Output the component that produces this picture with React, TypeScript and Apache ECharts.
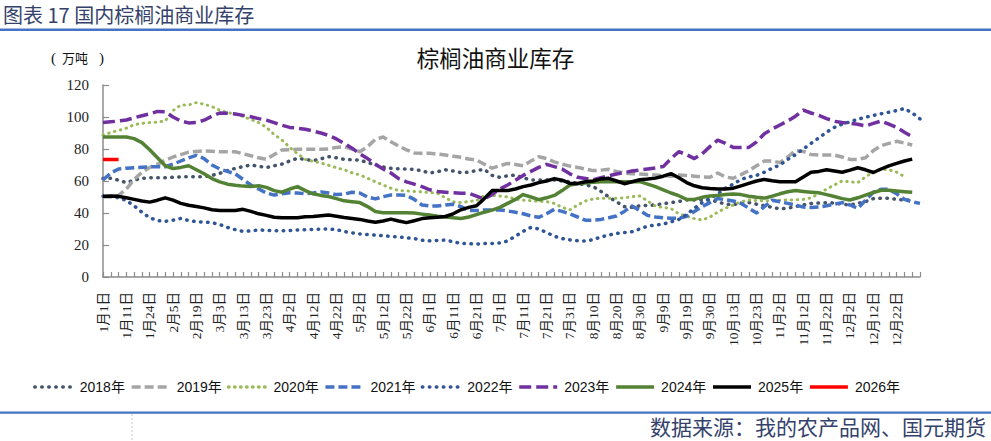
import React, { useEffect, useRef } from "react";
import * as echarts from "echarts";

const tickLabels = [
  "1月1日", "1月11日", "1月24日", "2月5日", "2月19日", "3月3日", "3月13日", "3月23日",
  "4月2日", "4月12日", "4月22日", "5月2日", "5月12日", "5月22日", "6月1日", "6月11日",
  "6月21日", "7月1日", "7月11日", "7月21日", "7月31日", "8月10日", "8月20日", "8月30日",
  "9月9日", "9月19日", "9月30日", "10月13日", "10月23日", "11月2日", "11月12日", "11月22日",
  "12月2日", "12月12日", "12月22日",
];
const categoryCount = 106;
const categories = Array.from({ length: categoryCount }, (_, i) =>
  i % 3 === 0 && i / 3 < tickLabels.length ? tickLabels[i / 3] : `#${i}`
);

const s2018 = [
  61.5, 61.7, 60.5, 59, 60.5, 61.7, 62, 62.1, 62.1, 62.3,
  62.6, 62.7, 62.7, 62.7, 63.5, 64.8, 66.5, 67.9, 69, 70,
  69.2, 68.4, 69.5, 70.6, 72.5, 74.2, 73.5, 72.7, 73.8, 75.2,
  74.5, 73.5, 73.3, 73.1, 71.5, 70, 68.8, 67.9, 67.7, 67.5,
  67.3, 66.3, 65, 65.8, 67, 66.2, 65.2, 65.5, 66.5, 67.3,
  63.5, 62.3, 63.2, 63.7, 62, 60.6, 60.6, 60.6, 60.6, 60,
  59.5, 58.5, 57.5, 56.5, 53.5, 50, 47, 44, 43.5, 44.5,
  44.8, 45, 45.8, 46.5, 47.2, 48.1, 48.1, 48.1, 48.1, 47,
  45.5, 45.3, 46, 46.5, 45.5, 44.5, 43.5, 42.6, 43, 44,
  45, 46, 46.2, 46.4, 46.3, 45.5, 45, 46, 47.1, 49,
  49.2, 49.2, 48.6, 48.1, 48,
];
const s2019 = [
  50, 50.2, 51, 55, 61, 65.5, 68.5, 70.5, 73, 75,
  76.5, 78, 78.5, 78.8, 78.6, 78.3, 78.3, 78.3, 77, 75.8,
  74.5, 73.5, 76.5, 79.4, 79.6, 79.8, 79.8, 79.8, 79.8, 80,
  81, 81.5, 80, 78.3, 81.5, 86, 87.5, 84.5, 81.8, 79.5,
  77.5, 77.3, 77.3, 76.8, 76.2, 75.5, 74.8, 73.8, 73.1, 70.5,
  68, 69.5, 71, 70.3, 69.5, 72.5, 75.2, 74, 72, 70.5,
  69.3, 68.5, 67.5, 66.5, 66.8, 67.3, 66, 65, 64.6, 64.3,
  64, 63.7, 63.3, 63, 63.7, 63.5, 63, 62.5, 62.3, 65,
  62.5, 61.7, 64, 66.5, 69.5, 72.5, 72.5, 71.5, 75, 79,
  78.5, 76.5, 76.2, 76.2, 76.2, 75, 73.5, 73.5, 74.5, 79,
  82, 83.5, 84.8, 83.7, 82.5,
];
const s2020 = [
  88.7, 90.3, 91.6, 93, 95.2, 96, 96.5, 96.8, 97.5, 104,
  107.5, 107.5, 109, 108, 106.5, 104.3, 102.7, 101.8, 100.3, 98.5,
  96.5, 93.5, 89, 85.6, 81, 77, 73.5, 72.3, 71.3, 69.8,
  68.3, 67, 65.2, 63.8, 61.8, 59.5, 57.5, 55.5, 54, 53.8,
  53.5, 53.2, 52.8, 52.3, 49.5, 47, 46.5, 47.2, 47.7, 51,
  51, 50.6, 50, 48.8, 48, 47.7, 47.3, 47.1, 46, 43.5,
  42, 45, 47.5, 48.8, 49.2, 49.2, 49.2, 49.5, 50.2, 50.6,
  47.5, 44.3, 43.5, 42.8, 39.5, 38, 36.5, 35.6, 37.5, 40.5,
  43, 45, 47, 48.1, 47.8, 47.5, 47.8, 48, 48.1, 48.3,
  48.5, 49.5, 52, 55, 57.5, 60, 59.5, 59, 62.5, 65.8,
  67.5, 67, 65.5, 62.7,
];
const s2021 = [
  60.6, 65, 67.5, 68, 68.3, 68.6, 68.9, 68.9, 68.9, 70.5,
  72.5, 74.5, 76, 74, 70, 67.5, 66, 64.5, 61, 57.5,
  55, 52.5, 51.2, 52, 52.7, 52.5, 52, 52.5, 53.2, 52.5,
  51.5, 51.8, 53, 52.5, 50, 48.8, 50.2, 51.2, 51.2, 51,
  48.5, 45, 44.4, 44.4, 45, 45.5, 44, 41.5, 41.5, 41.9,
  41.9, 41.9, 41.3, 40.5, 39.5, 38.2, 37.3, 39.5, 42.3, 41,
  39.4, 37.5, 35.5, 35.5, 36, 37, 38.1, 41, 44.4, 41.5,
  38.5, 37.5, 37, 36.7, 36.7, 38, 41, 44, 46.5, 49,
  48.3, 47.5, 46, 43, 40, 44, 48, 47, 46, 45,
  43.7, 43.5, 43.8, 44.5, 45.5, 46.5, 45, 42.9, 48, 53,
  54.8, 54.8, 52, 48.5, 47, 46,
];
const s2022 = [
  50.5, 50.3, 49.5, 47.8, 44.5, 40.5, 37, 35.3, 34.8, 35.5,
  36.6, 35.3, 34.6, 34.3, 34, 32.8, 31, 29.6, 28.5, 28.8,
  29.4, 29.2, 29, 28.9, 29.1, 29.4, 29.6, 29.8, 29.9, 30,
  29.6, 28.4, 27.6, 26.9, 26.6, 26.2, 25.8, 25.4, 25, 24.5,
  24, 23, 22.6, 22.9, 23.1, 22, 21, 20.8, 20.6, 21,
  21, 21.3, 22.5, 25.5, 28.5, 31, 30, 27.8, 25.5, 24,
  23.2, 22.7, 22.5, 23.3, 25, 26.2, 27.3, 27.8, 28.3, 30,
  31.8, 32.5, 33, 34.5, 36, 39, 43, 46.5, 49, 52,
  55.5, 58, 61, 62.5, 63.5, 65.5, 68, 70, 73.5, 76.5,
  80, 83.5, 87, 90.5, 93.5, 95.5, 97, 98.6, 99.8, 101,
  102, 103, 104, 105.3, 102.5, 98.8,
];
const s2023 = [
  96.5, 97, 97.5, 98.1, 99.5, 100.8, 102, 103.5, 103.3, 100,
  97.5, 96.3, 96.5, 98, 100.5, 102.5, 102.3, 101.9, 101, 100.2,
  99, 98, 96.5, 94.8, 93.5, 93, 92.3, 91.2, 90, 88.5,
  86.3, 83.5, 80.5, 77, 74, 70.5, 67.5, 65, 61.5, 59.5,
  58, 56.5, 54.5, 53.5, 53, 52.6, 52.3, 52.3, 50.5, 48.8,
  51.5, 55, 57.5, 60.5, 63.5, 66, 68.5, 70.4, 69, 67.5,
  64.5, 62.3, 61.5, 60.8, 62, 63.3, 64.4, 65.3, 66.2, 66.9,
  67.5, 68.2, 69, 74, 78.3, 76.5, 74, 77, 81.5, 85.5,
  83.5, 81, 81, 81, 84.5, 89.5, 92.5, 95, 97.5, 100.5,
  104.3, 102.5, 101, 99, 97.3, 96.5, 96, 95.5, 94.4, 96,
  97.5, 95.5, 93.5, 90.5, 87.7,
];
const s2024 = [
  87.5, 87.5, 87.5, 87.5, 86.5, 84, 79.5, 74.5, 69.5, 67.8,
  68.5, 69.5, 67, 64.5, 61.5, 59.5, 58, 57.3, 56.8, 56.5,
  57, 56, 54, 53, 55, 56.5, 54, 52, 51, 50.3,
  49, 47.6, 47, 46.5, 44, 41, 40.2, 40.2, 40.2, 40.2,
  40, 39.3, 38.7, 38, 37.5, 37, 36.6, 37.5, 39, 40.5,
  41.8, 43.5, 46, 48.5, 51.5, 50, 48.3, 49.5, 51, 54,
  57.5, 58.3, 58.8, 59.2, 59.5, 59.6, 59.6, 59.6, 59.6, 59.6,
  58, 56.5, 54.5, 52.5, 50.8, 48.5, 48.5, 49.8, 50.6, 51,
  51.5, 51.8, 51.5, 50.5, 49.8, 49.3, 50.5, 52, 53.3, 54,
  53.5, 53, 52.6, 51.5, 50.3, 49, 48.1, 49.5, 51.2, 52.8,
  54.2, 54.2, 53.8, 53.3, 52.9,
];
const s2025 = [
  50.5, 50.6, 50.4, 49.5, 48.5, 47.5, 46.8, 48, 49.5, 48,
  46, 44.8, 44, 43.2, 42, 41.5, 41.5, 41.5, 42.3, 41,
  39.5, 38.5, 37.3, 37, 37, 37, 37.6, 37.8, 38.3, 38.7,
  38, 37.2, 36.6, 36, 35, 34.2, 35, 36.2, 35, 34,
  35.2, 36.5, 37, 37.4, 37.8, 39.5, 42, 43.5, 44.5, 49,
  54, 54, 54, 55, 56.5, 57.5, 59, 60, 61.5, 60.5,
  58.5, 58.5, 59.5, 60, 61.3, 61.7, 60, 58.3, 59.5, 60.8,
  61.2, 61.8, 63, 64.6, 62, 59, 57, 55.8, 55.3, 55,
  55, 55.5, 57, 58.5, 60, 61, 60.2, 59.6, 59.6, 59.6,
  62.5, 65.4, 66, 67, 66.3, 65.5, 66.8, 68.3, 67, 65.3,
  67.5, 69.5, 71, 72.5, 73.7,
];
const s2026 = [73.5, 73.5, 73.5];

const seriesNames = ["2018年", "2019年", "2020年", "2021年", "2022年", "2023年", "2024年", "2025年", "2026年"];
const seriesData = [s2018, s2019, s2020, s2021, s2022, s2023, s2024, s2025, s2026];
const seriesStyles = [
  { color: "#44546A", type: [0.5, 6.5], width: 3.5, cap: "round" },
  { color: "#A5A5A5", type: [9, 4], width: 3.5, cap: "butt" },
  { color: "#9BBB59", type: [0.5, 5.5], width: 3, cap: "round" },
  { color: "#4472C4", type: [9, 4], width: 3.5, cap: "butt" },
  { color: "#2F5597", type: [0.5, 6.5], width: 3.5, cap: "round" },
  { color: "#7030A0", type: [12, 5], width: 3.5, cap: "butt" },
  { color: "#548235", type: "solid", width: 3.5, cap: "butt" },
  { color: "#000000", type: "solid", width: 3.5, cap: "butt" },
  { color: "#FF0000", type: "solid", width: 3.5, cap: "butt" },
];

const axisColor = "#8c8c8c";
const serifFont = "'Liberation Serif', 'Noto Sans CJK SC', serif";
const cjkFont = "'Noto Sans CJK SC', sans-serif";

export default function App() {
  const ref = useRef<HTMLDivElement>(null);
  useEffect(() => {
    if (!ref.current) return;
    const chart = echarts.init(ref.current, null, { renderer: "svg" });
    chart.setOption({
      animation: false,
      backgroundColor: "#ffffff",
      title: {
        text: "棕榈油商业库存",
        left: "center",
        top: 41,
        textStyle: { fontSize: 22.5, fontWeight: "normal", color: "#111111", fontFamily: cjkFont },
      },
      grid: { left: 103, right: 71, top: 85, bottom: 164, containLabel: false },
      legend: {
        data: seriesNames,
        left: 28,
        top: 375,
        itemWidth: 38,
        itemHeight: 14,
        itemGap: 5,
        itemStyle: { opacity: 0 },
        lineStyle: { width: 3.5 },
        textStyle: {
          fontSize: 14,
          color: "#111111",
          fontFamily: "'Liberation Sans', 'Noto Sans CJK SC', sans-serif",
          padding: [0, 0, 0, 2],
        },
      },
      xAxis: {
        type: "category",
        data: categories,
        boundaryGap: false,
        axisLine: { lineStyle: { color: axisColor, width: 1.5 } },
        axisTick: { show: true, inside: true, length: 5, interval: 0, lineStyle: { color: axisColor, width: 1.2 } },
        axisLabel: {
          interval: 2,
          rotate: 90,
          margin: 15,
          fontSize: 13.5,
          color: "#222222",
          fontFamily: serifFont,
          formatter: (v: string) => (v.startsWith("#") ? "" : v),
        },
        splitLine: { show: false },
      },
      yAxis: {
        type: "value",
        min: 0,
        max: 120,
        interval: 20,
        axisLine: { show: true, lineStyle: { color: axisColor, width: 1.5 } },
        axisTick: { show: true, inside: true, length: 6, lineStyle: { color: axisColor, width: 1.2 } },
        axisLabel: { fontSize: 15, color: "#222222", fontFamily: serifFont, margin: 14 },
        splitLine: { show: false },
      },
      series: seriesNames.map((name, k) => ({
        name,
        type: "line",
        data: seriesData[k],
        symbol: "none",
        showSymbol: false,
        lineStyle: {
          color: seriesStyles[k].color,
          width: seriesStyles[k].width,
          type: seriesStyles[k].type,
          cap: seriesStyles[k].cap,
          join: "round",
        },
        itemStyle: { color: seriesStyles[k].color },
        z: 2 + k,
      })),
      graphic: [
        {
          type: "text",
          left: 3,
          top: 4,
          style: { text: "图表 17 国内棕榈油商业库存", fontSize: 20, fontFamily: cjkFont, fill: "#34426b" },
        },
        { type: "rect", shape: { x: 0, y: 28.5, width: 991, height: 2.5 }, style: { fill: "#4472C4" } },
        {
          type: "text",
          left: 51,
          top: 50,
          style: {
            text: "{l|(}{m|万吨}{r|)}",
            fontFamily: serifFont,
            fill: "#111111",
            rich: {
              l: { fontSize: 15, fontFamily: serifFont, fill: "#111111", padding: [0, 6, 0, 0] },
              m: { fontSize: 13, fontFamily: cjkFont, fill: "#111111" },
              r: { fontSize: 15, fontFamily: serifFont, fill: "#111111", padding: [0, 0, 0, 11] },
            },
          },
        },
        { type: "rect", shape: { x: 0, y: 411.5, width: 991, height: 2.2 }, style: { fill: "#4472C4" } },
        {
          type: "line",
          shape: { x1: 132, y1: 414, x2: 132, y2: 441 },
          style: { stroke: "#c8c8c8", lineWidth: 1, lineDash: [2, 2] },
        },
        {
          type: "text",
          right: 5,
          top: 415,
          style: { text: "数据来源：我的农产品网、国元期货", fontSize: 21, fontFamily: cjkFont, fill: "#34426b" },
        },
      ],
    });
    return () => chart.dispose();
  }, []);
  return (
    <div
      ref={ref}
      style={{ position: "fixed", left: 0, top: 0, width: 991, height: 441, background: "#ffffff" }}
    />
  );
}
